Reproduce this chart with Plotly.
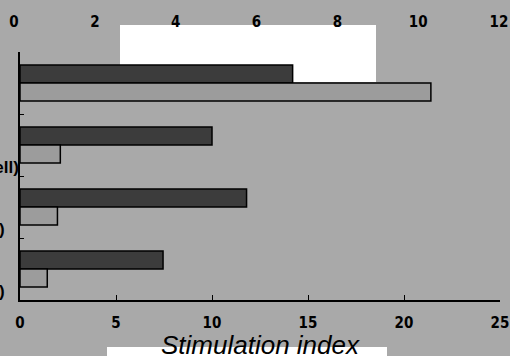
import plotly.graph_objects as go

NB = "\u00a0"
# ---- data ----
categories = ["Control" + NB * 10,
              "Antigen A" + NB * 10 + "<br>lysate" + NB * 10 + "<br>(10⁵ tumor cell)",
              "Antigen B" + NB * 10 + "<br>lysate" + NB * 10 + "<br>(10⁵ cell)" + NB * 3,
              "Antigen C" + NB * 10 + "<br>peptide" + NB * 10 + "<br>(10 μg)" + NB * 3]
dark_values = [14.2, 10.0, 11.8, 7.45]
light_values = [21.4, 2.1, 1.95, 1.42]
bottom_ticks = [0, 5, 10, 15, 20, 25]
top_ticks = [0, 2, 4, 6, 8, 10, 12]
x_title = "Stimulation index"

BG = "#a9a9a9"
tick_font = dict(family="Liberation Sans Narrow, DejaVu Sans Condensed, Arial Narrow, sans-serif",
                 size=15, color="black", weight="bold")

fig = go.Figure()
fig.add_trace(go.Bar(y=categories, x=dark_values, orientation="h",
                     marker=dict(color="#3c3c3c", line=dict(color="black", width=1.5)),
                     xaxis="x", yaxis="y", showlegend=False))
fig.add_trace(go.Bar(y=categories, x=light_values, orientation="h",
                     marker=dict(color="#9c9c9c", line=dict(color="black", width=1.5)),
                     xaxis="x", yaxis="y", showlegend=False))
# invisible trace to carry the top axis
fig.add_trace(go.Scatter(x=[0, 12], y=[categories[0], categories[0]], mode="markers",
                         marker=dict(opacity=0), xaxis="x2", yaxis="y",
                         hoverinfo="skip", showlegend=False))

W, H = 510, 356
ml, mr, mt, mb = 14, 10, 30, 56
pw = W - ml - mr
ph = H - mt - mb

fig.update_layout(
    width=W, height=H,
    margin=dict(l=ml, r=mr, t=mt, b=mb, autoexpand=False),
    paper_bgcolor=BG, plot_bgcolor="rgba(0,0,0,0)",
    barmode="group", bargap=0.42, bargroupgap=0,
    xaxis=dict(domain=[6 / pw, 1], range=[0, 25], tickvals=bottom_ticks,
               automargin=False,
               showline=True, linecolor="black", linewidth=1.5,
               ticks="inside", ticklen=5, tickcolor="black", tickwidth=1.2,
               showgrid=False, zeroline=False, tickfont=tick_font,
               ticklabelstandoff=8),
    xaxis2=dict(domain=[0, (pw - 1) / pw], range=[0, 12], tickvals=top_ticks,
                automargin=False,
                side="top", anchor="free", position=1,
                showline=False, ticks="", showgrid=False, zeroline=False,
                tickfont=tick_font, ticklabelstandoff=0),
    yaxis=dict(domain=[0, (300 - 52) / ph], anchor="x", autorange="reversed",
               type="category", automargin=False,
               showline=True, linecolor="black", linewidth=1.5,
               ticks="inside", ticklen=4, tickcolor="black", tickson="boundaries",
               showgrid=False, zeroline=False,
               tickfont=dict(family="Liberation Sans, Arial, sans-serif", size=17,
                             color="black", weight="bold"),
               ticklabelstandoff=-4),
    annotations=[
        dict(text=x_title, xref="x domain", yref="paper", x=0.5, y=(300 - 345) / ph,
             xanchor="center", yanchor="middle", showarrow=False,
             font=dict(family="Liberation Sans, Arial, sans-serif", size=26,
                       style="italic", color="black")),
    ],
    shapes=[
        dict(type="rect", xref="paper", yref="paper", layer="below",
             x0=(120 - ml) / pw, x1=(376 - ml) / pw,
             y0=(300 - 82) / ph, y1=(300 - 25) / ph,
             fillcolor="white", line=dict(width=0)),
        dict(type="rect", xref="paper", yref="paper", layer="below",
             x0=(107 - ml) / pw, x1=(387 - ml) / pw,
             y0=(300 - 362) / ph, y1=(300 - 347) / ph,
             fillcolor="white", line=dict(width=0)),
    ],
)

fig.write_html("out.html",
               config={"displayModeBar": False},
               post_script="document.body.style.margin='0';"
                           "document.body.style.background='" + BG + "';")
